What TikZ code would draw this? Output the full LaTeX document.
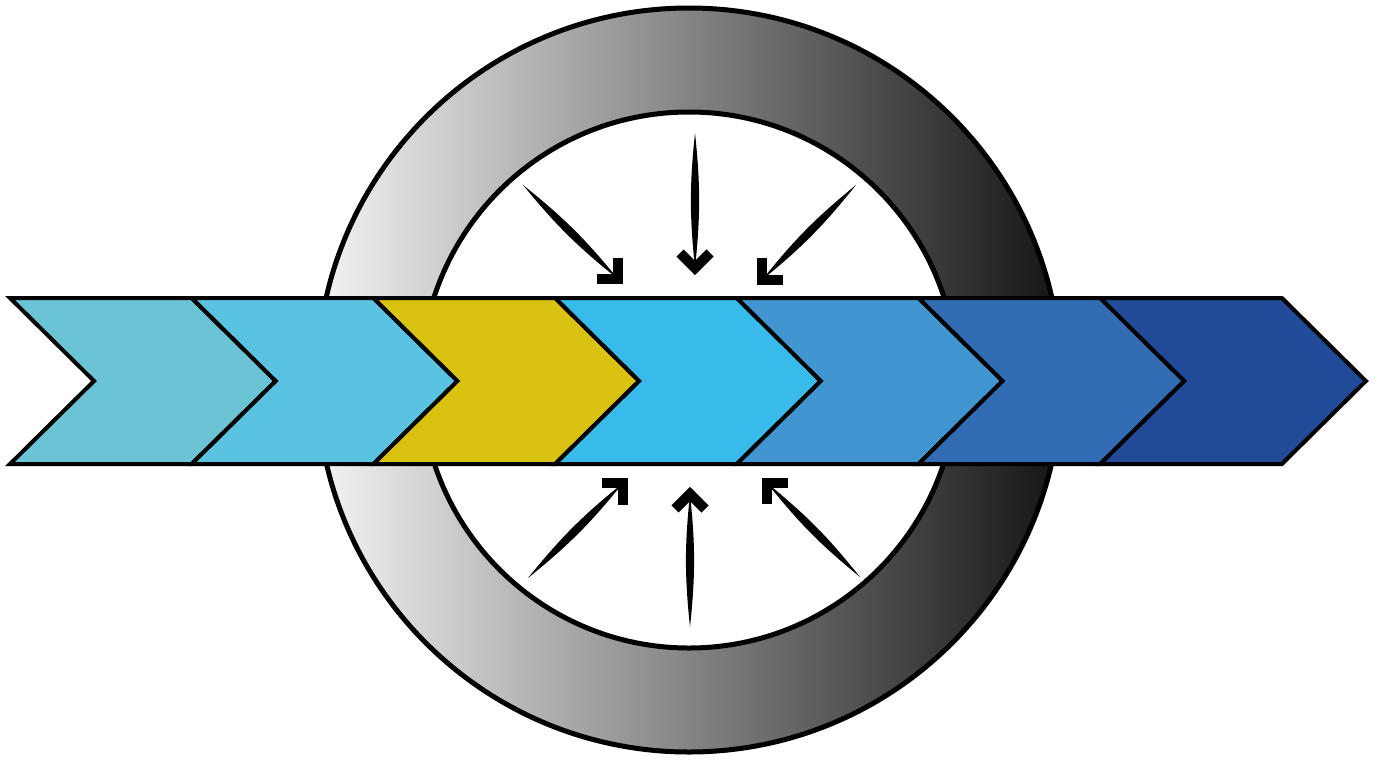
\documentclass[tikz,border=0pt]{standalone}
\usepackage{tikz}
\usetikzlibrary{calc}
\definecolor{cStepA}{RGB}{106,196,214}
\definecolor{cStepB}{RGB}{91,195,226}
\definecolor{cStepC}{RGB}{217,194,16}
\definecolor{cStepD}{RGB}{56,186,234}
\definecolor{cStepE}{RGB}{65,150,209}
\definecolor{cStepF}{RGB}{50,108,181}
\definecolor{cStepG}{RGB}{33,75,152}
\definecolor{cRingL}{RGB}{244,244,244}
\definecolor{cRingR}{RGB}{20,20,20}
\tikzset{
  ringband/.style={left color=cRingL, right color=cRingR, even odd rule},
  ringline/.style={draw=black, line width=2.5pt},
  chevron/.style={draw=black, line width=2pt, line join=miter},
  shaftfill/.style={fill=black},
  headline/.style={draw=black, line width=5pt, line join=miter, line cap=butt}
}

\begin{document}
\begin{tikzpicture}[x=0.5pt, y=-0.5pt]
  \useasboundingbox (0,0) rectangle (1379,760);

  % ring behind the band
  \coordinate (hub) at (689,380);
  \shade[ringband] (hub) circle (186pt) (hub) circle (134pt);
  \draw[ringline] (hub) circle (186pt);
  \draw[ringline] (hub) circle (134pt);

  % the seven steps
  \foreach \i/\col in {0/cStepA, 1/cStepB, 2/cStepC, 3/cStepD, 4/cStepE, 5/cStepF, 6/cStepG}{
    \pgfmathsetmacro{\xl}{10+181.7*\i}
    \pgfmathsetmacro{\xr}{\xl+181.7}
    \draw[chevron, fill=\col] (\xl,298) -- (\xr,298) -- (\xr+84,381)
      -- (\xr,464) -- (\xl,464) -- (\xl+84,381) -- cycle;
  }

  % arrows pressing on the band
  \foreach \sx/\sy/\ax/\ay/\cx/\cy/\bx/\by in {
      523/185/597/279/618/279/618/258,
      695/133/680/253/695/268/710/253,
      856/185/783/280/762/280/762/258,
      528/578/602/483/623/483/623/505,
      690/627/675/509/690/494/705/509,
      860/577/788/483/767/483/767/504}{
    \coordinate (tail) at (\sx,\sy);
    \coordinate (tip) at (\cx,\cy);
    \fill[shaftfill] (tail) to[bend left=6] (tip) to[bend left=6] (tail) -- cycle;
    \draw[headline] (\ax,\ay) -- (tip) -- (\bx,\by);
  }
\end{tikzpicture}
\end{document}
